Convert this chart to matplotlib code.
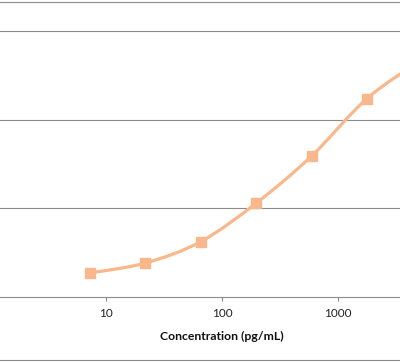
import numpy as np
import matplotlib.pyplot as plt
import matplotlib as mpl
from matplotlib.path import Path
from matplotlib.patches import PathPatch
from matplotlib.lines import Line2D

# standard curve, 3-fold dilutions
conc = [7.3, 21.9, 65.8, 197.5, 592.6, 1777.8, 5333.3]
od = [0.266, 0.379, 0.621, 1.056, 1.588, 2.237, 2.68]
xticks = [10, 100, 1000]
xtick_labels = ["10", "100", "1000"]

color = "#F8B88C"
grid_color = "#8C8C8C"

mpl.rcParams["font.family"] = ["Lato", "DejaVu Sans"]

fig = plt.figure(figsize=(4.0, 3.62), dpi=100)
ax = fig.add_axes([0.0, (362 - 296.5) / 362, 1.0, 296.5 / 362])

ax.set_xscale("log")
ax.set_xlim(10 ** (1 - 106 / 116), 10 ** (1 + 294 / 116))
ax.set_ylim(0, 296.5 / 88.5)

# smoothed line (Bezier through the points, in log-x space like Excel)
lx = np.log10(conc)
y = np.array(od)
n = len(lx)
verts = [(conc[0], y[0])]
codes = [Path.MOVETO]
for i in range(n - 1):
    p0 = (lx[max(i - 1, 0)], y[max(i - 1, 0)])
    p1 = (lx[i], y[i])
    p2 = (lx[i + 1], y[i + 1])
    p3 = (lx[min(i + 2, n - 1)], y[min(i + 2, n - 1)])
    c1 = (p1[0] + (p2[0] - p0[0]) / 6, p1[1] + (p2[1] - p0[1]) / 6)
    c2 = (p2[0] - (p3[0] - p1[0]) / 6, p2[1] - (p3[1] - p1[1]) / 6)
    verts += [(10 ** c1[0], c1[1]), (10 ** c2[0], c2[1]), (10 ** p2[0], p2[1])]
    codes += [Path.CURVE4] * 3
ax.add_patch(PathPatch(Path(verts, codes), facecolor="none", edgecolor=color,
                       lw=2.3, capstyle="round", zorder=3))
ax.plot(conc, od, linestyle="none", marker="s", markersize=7.6, color=color, zorder=4)

ax.set_yticks([1, 2, 3])
ax.yaxis.grid(True, color=grid_color, linewidth=0.8)
ax.set_axisbelow(True)
ax.tick_params(axis="y", left=False, labelleft=False)

ax.set_xticks(xticks)
ax.set_xticklabels(xtick_labels)
ax.xaxis.set_minor_locator(mpl.ticker.NullLocator())
ax.tick_params(axis="x", direction="out", length=3, width=0.8, color=grid_color,
               labelsize=8.5, labelcolor="#222222", pad=5.5)

for s in ["top", "left", "right"]:
    ax.spines[s].set_visible(False)
ax.spines["bottom"].set_color(grid_color)
ax.spines["bottom"].set_linewidth(0.8)

fig.text(221.5 / 400, 1 - 336 / 362, "Concentration (pg/mL)", ha="center", va="center",
         fontsize=8.8, fontweight="bold", color="#111111")

# chart border lines
fig.add_artist(Line2D([0, 1], [1 - 1.5 / 362, 1 - 1.5 / 362], color=grid_color, lw=0.8))
fig.add_artist(Line2D([0, 1], [1 - 360 / 362, 1 - 360 / 362], color=grid_color, lw=0.8))

fig.savefig("out.png", dpi=100)
